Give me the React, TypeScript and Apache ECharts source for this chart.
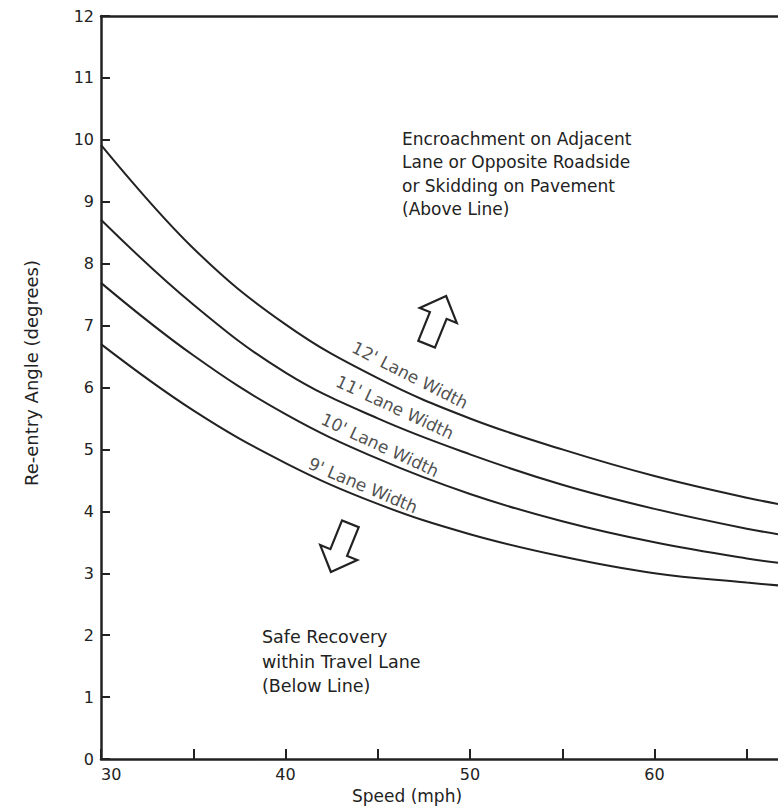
import React, { useEffect, useRef } from "react";
import * as echarts from "echarts";

// Speed (mph) at which each curve is sampled
const speeds = [30, 35, 40, 45, 50, 55, 60, 65, 68];

// Re-entry angle (degrees) for each lane width
const lane12 = [9.92, 8.25, 7.02, 6.15, 5.5, 5.0, 4.57, 4.22, 4.05];
const lane11 = [8.71, 7.34, 6.24, 5.5, 4.92, 4.43, 4.04, 3.72, 3.57];
const lane10 = [7.69, 6.52, 5.57, 4.85, 4.28, 3.84, 3.5, 3.24, 3.12];
const lane9 = [6.7, 5.63, 4.78, 4.12, 3.63, 3.27, 3.0, 2.85, 2.77];

// Curve labels, anchored in data coordinates
const laneNames = ["12' Lane Width", "11' Lane Width", "10' Lane Width", "9' Lane Width"];
const labelSpeeds = [46.75, 45.93, 45.12, 44.2];
const labelAngles = [6.2, 5.68, 5.07, 4.42];

const xTicks = [30, 40, 50, 60];

const INK = "#222222";
const FONT = '"DejaVu Sans", sans-serif';

// Outlined block arrow pointing up in local coordinates
const arrowShape: number[][] = [
  [0, -27],
  [20, -6],
  [9, -6],
  [9, 25],
  [-9, 25],
  [-9, -6],
  [-20, -6],
];

export default function App() {
  const ref = useRef<HTMLDivElement>(null);

  useEffect(() => {
    if (!ref.current) return;
    const chart = echarts.init(ref.current, undefined, { renderer: "svg" });

    const curves = [lane12, lane11, lane10, lane9];
    const lineSeries = curves.map((vals, i) => ({
      type: "line" as const,
      name: laneNames[i],
      data: speeds.map((s, j) => [s, vals[j]]),
      smooth: 0.4,
      showSymbol: false,
      symbol: "none",
      lineStyle: { color: INK, width: 2 },
      silent: true,
    }));

    const tilts = [-27, -25, -25, -23];
    const labelSeries = laneNames.map((name, i) => ({
      type: "scatter" as const,
      data: [[labelSpeeds[i], labelAngles[i]]],
      symbolSize: 0,
      silent: true,
      label: {
        show: true,
        position: "inside" as const,
        formatter: name,
        rotate: tilts[i],
        color: INK,
        fontFamily: FONT,
        fontSize: 17,
      },
    }));

    const axisLineStyle = { color: INK, width: 2.5 };

    chart.setOption({
      animation: false,
      backgroundColor: "#ffffff",
      grid: { left: 101, top: 16, width: 738, height: 743, outerBoundsMode: "none", containLabel: false },
      xAxis: [
        {
          type: "value",
          min: 30,
          max: 70,
          interval: 5,
          axisLine: { show: true, lineStyle: axisLineStyle },
          axisTick: { show: true, inside: true, length: 10, lineStyle: { color: INK, width: 2 } },
          splitLine: { show: false },
          axisLabel: {
            color: INK,
            fontFamily: FONT,
            fontSize: 16,
            margin: 7,
            alignMinLabel: "left",
            formatter: (v: number) => (xTicks.includes(v) ? String(v) : ""),
          },
        },
        {
          type: "value",
          position: "top",
          min: 30,
          max: 70,
          axisLine: { show: true, onZero: false, lineStyle: axisLineStyle },
          axisTick: { show: false },
          axisLabel: { show: false },
          splitLine: { show: false },
        },
      ],
      yAxis: {
        type: "value",
        min: 0,
        max: 12,
        interval: 1,
        axisLine: { show: true, lineStyle: axisLineStyle },
        axisTick: { show: true, inside: true, length: 9, lineStyle: { color: INK, width: 2 } },
        splitLine: { show: false },
        axisLabel: { color: INK, fontFamily: FONT, fontSize: 16, margin: 7 },
      },
      series: [...lineSeries, ...labelSeries],
      graphic: [
        {
          type: "text",
          x: 402,
          y: 127,
          style: {
            text: "Encroachment on Adjacent\nLane or Opposite Roadside\nor Skidding on Pavement\n(Above Line)",
            font: `17px ${FONT}`,
            fill: INK,
            lineHeight: 23.5,
            textVerticalAlign: "top",
          },
        },
        {
          type: "text",
          x: 262,
          y: 625,
          style: {
            text: "Safe Recovery\nwithin Travel Lane\n(Below Line)",
            font: `17.5px ${FONT}`,
            fill: INK,
            lineHeight: 24.5,
            textVerticalAlign: "top",
          },
        },
        {
          type: "polygon",
          x: 436,
          y: 321,
          rotation: (-22 * Math.PI) / 180,
          shape: { points: arrowShape },
          style: { fill: "#ffffff", stroke: INK, lineWidth: 2.2 },
        },
        {
          type: "polygon",
          x: 341,
          y: 547,
          rotation: ((180 - 22) * Math.PI) / 180,
          shape: { points: arrowShape },
          style: { fill: "#ffffff", stroke: INK, lineWidth: 2.2 },
        },
        {
          type: "text",
          x: 407,
          y: 796,
          style: {
            text: "Speed (mph)",
            font: `17px ${FONT}`,
            fill: INK,
            textAlign: "center",
            textVerticalAlign: "middle",
          },
        },
        {
          type: "text",
          x: 31,
          y: 373,
          rotation: Math.PI / 2,
          style: {
            text: "Re-entry Angle (degrees)",
            font: `18px ${FONT}`,
            fill: INK,
            textAlign: "center",
            textVerticalAlign: "middle",
          },
        },
      ],
    });

    return () => chart.dispose();
  }, []);

  return (
    <div
      ref={ref}
      style={{ position: "absolute", left: 0, top: 0, width: 778, height: 807 }}
    />
  );
}
